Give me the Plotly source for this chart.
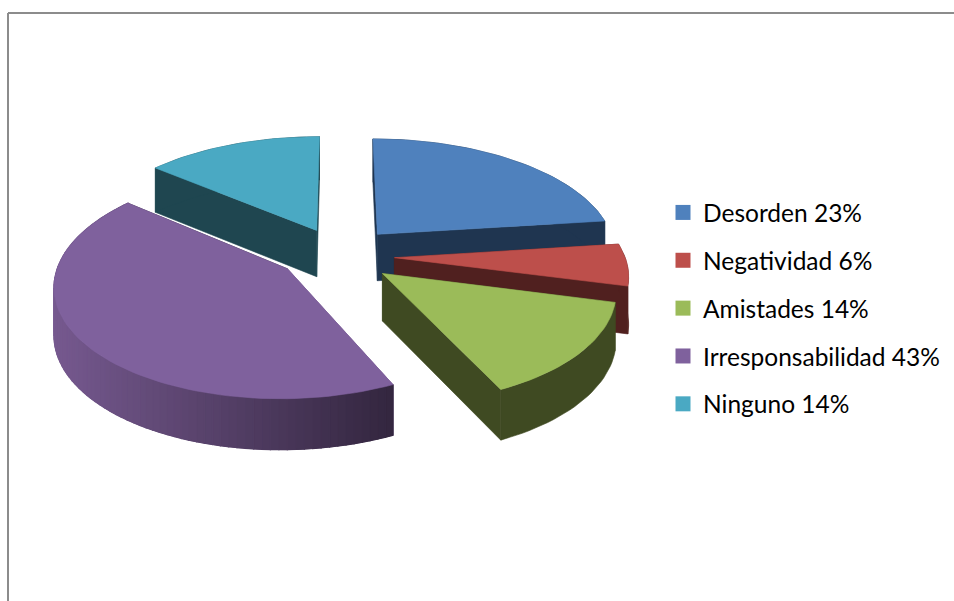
import numpy as np
import plotly.graph_objects as go

categories = ["Desorden", "Negatividad", "Amistades", "Irresponsabilidad", "Ninguno"]
values = [23, 6, 14, 43, 14]
top_colors = ["#4f81bd", "#bd4f4b", "#9bbb59", "#7f619d", "#4aa9c3"]
wall_left = ["#1f3550", "#50201f", "#3f4a22", "#76598f", "#1f4650"]
wall_right = ["#1f3550", "#50201f", "#3f4a22", "#33263f", "#1f4650"]
draw_order = [4, 0, 1, 2, 3]

# drawing style of the projected pie
radius_scale = [1.02, 0.98, 0.96, 0.96, 1.01]
nudge_x = [3, 0, 0, -5, 2]
nudge_y = [-1, 1, 1, -3, -1]
CX, CY = 338, 255
RX, RY = 235, 112
P = 0.14
EXPLODE = 0.24
DEPTH = 47


def project(wx, wy, drop=0.0):
    d = 1 + P * wy
    return CX + RX * wx / d, CY - RY * wy / d + drop / (1 + 0.5 * P * wy)


def hex_rgb(c):
    return np.array([int(c[i:i + 2], 16) for i in (1, 3, 5)], dtype=float)


def mix(a, b, t):
    v = hex_rgb(a) * (1 - t) + hex_rgb(b) * t
    return "rgb(%d,%d,%d)" % tuple(v.round())


def poly(fig, xs, ys, color, lw=0.6, dx=0, dy=0):
    fig.add_trace(go.Scatter(x=[v + dx for v in xs] + [xs[0] + dx], y=[v + dy for v in ys] + [ys[0] + dy],
                             mode="lines", fill="toself",
                             fillcolor=color, line=dict(color=color, width=lw),
                             showlegend=False, hoverinfo="skip"))


fig = go.Figure()
total = sum(values)
edges = np.cumsum([0] + values) / total * 2 * np.pi

for i in draw_order:
    a0, a1 = edges[i], edges[i + 1]
    mid = (a0 + a1) / 2
    r = radius_scale[i]
    dx, dy = nudge_x[i], nudge_y[i]
    ox, oy = EXPLODE * np.sin(mid), EXPLODE * np.cos(mid)
    ang = np.linspace(a0, a1, max(int(values[i] * 2), 12))
    wx, wy = ox + r * np.sin(ang), oy + r * np.cos(ang)
    tx, ty = project(wx, wy)
    bx, by = project(wx, wy, DEPTH)
    ax, ay = project(np.array(ox), np.array(oy))
    abx, aby = project(np.array(ox), np.array(oy), DEPTH)
    # radial walls
    poly(fig, [ax, tx[0], bx[0], abx], [ay, ty[0], by[0], aby], wall_left[i], dx=dx, dy=dy)
    poly(fig, [ax, tx[-1], bx[-1], abx], [ay, ty[-1], by[-1], aby], wall_right[i], dx=dx, dy=dy)
    # outer wall: one solid band, then gradient strips where the colours differ
    poly(fig, list(tx) + list(bx[::-1]), list(ty) + list(by[::-1]), mix(wall_left[i], wall_right[i], 0.5) if wall_left[i] != wall_right[i] else wall_left[i], dx=dx, dy=dy)
    if wall_left[i] != wall_right[i]:
        lo, hi = tx.min(), tx.max()
        for k in range(len(ang) - 1):
            t = ((tx[k] + tx[k + 1]) / 2 - lo) / max(hi - lo, 1)
            poly(fig, [tx[k], tx[k + 1], bx[k + 1], bx[k]], [ty[k], ty[k + 1], by[k + 1], by[k]],
                 mix(wall_left[i], wall_right[i], t), lw=1.2, dx=dx, dy=dy)
    # top face
    poly(fig, [ax] + list(tx), [ay] + list(ty), top_colors[i], dx=dx, dy=dy)

for i, c in enumerate(categories):
    fig.add_trace(go.Scatter(x=[None], y=[None], mode="markers", name=f"{c} {values[i]}%",
                             legendgroup=c,
                             marker=dict(symbol="square", size=15, color=top_colors[i])))

fig.add_shape(type="line", x0=8, x1=8, y0=13, y1=601, line=dict(color="#8c8c8c", width=2))
fig.add_shape(type="line", x0=8, x1=954, y0=13, y1=13, line=dict(color="#8c8c8c", width=2))

fig.update_layout(
    width=954, height=601, margin=dict(l=0, r=0, t=0, b=0),
    paper_bgcolor="white", plot_bgcolor="white",
    xaxis=dict(range=[0, 954], visible=False, fixedrange=True),
    yaxis=dict(range=[601, 0], visible=False, fixedrange=True),
    legend=dict(x=663 / 954, y=1 - 190 / 601, xanchor="left", yanchor="top",
                font=dict(family="Lato", size=24.5, color="black"),
                tracegroupgap=13, bgcolor="rgba(0,0,0,0)", itemclick=False, itemdoubleclick=False),
)
fig.write_html("out.html", post_script="document.body.style.margin='0';",
               config={"displayModeBar": False})
